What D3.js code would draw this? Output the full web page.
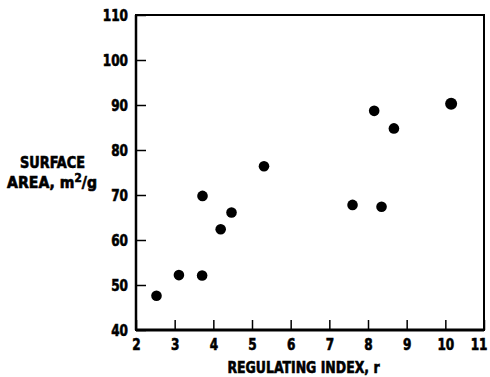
<!DOCTYPE html>
<html><head><meta charset="utf-8">
<script src="https://cdn.jsdelivr.net/npm/d3@7"></script>
<style>
body{margin:0;background:#fff;}
text{font-family:"DejaVu Sans Condensed","DejaVu Sans",sans-serif;font-stretch:condensed;font-weight:bold;fill:#000;stroke:#000;stroke-width:0.6px;}
</style></head>
<body>
<svg id="chart" width="490" height="377"></svg>
<script>
const regulatingIndex = [2.53, 3.11, 3.71, 3.72, 4.19, 4.47, 5.31, 7.6, 8.16, 8.35, 8.67, 10.15];
const surfaceArea     = [47.6, 52.2, 52.1, 69.8, 62.4, 66.1, 76.4, 67.8, 88.7, 67.4, 84.8, 90.3];
const xTicks = [2,3,4,5,6,7,8,9,10,11];
const yTicks = [40,50,60,70,80,90,100,110];

const svg = d3.select("#chart");
const m = {left:136, top:15, right:484, bottom:330};
const x = d3.scaleLinear().domain([2,11]).range([m.left, m.right]);
const y = d3.scaleLinear().domain([40,110]).range([m.bottom, m.top]);

// frame
svg.append("rect").attr("x",m.left).attr("y",m.top)
  .attr("width",m.right-m.left).attr("height",m.bottom-m.top)
  .attr("fill","none").attr("stroke","#000").attr("stroke-width",2);
svg.append("line").attr("x1",m.left).attr("x2",m.right).attr("y1",m.bottom).attr("y2",m.bottom)
  .attr("stroke","#000").attr("stroke-width",3);
svg.append("line").attr("x1",m.left).attr("x2",m.left).attr("y1",m.top).attr("y2",m.bottom)
  .attr("stroke","#000").attr("stroke-width",2.5);

const digitW = 8.4;
// x axis
const xAxis = d3.axisBottom(x).tickValues(xTicks).tickSizeInner(-10).tickSizeOuter(0);
const gx = svg.append("g").attr("transform",`translate(0,${m.bottom})`).call(xAxis);
gx.select(".domain").remove();
gx.selectAll(".tick line").attr("stroke","#000").attr("stroke-width",1.5);
gx.selectAll(".tick text").attr("font-size",16).attr("y",20).attr("dy",0)
  .attr("textLength",d=>String(d).length*digitW).attr("lengthAdjust","spacingAndGlyphs");
gx.selectAll(".tick").filter(d=>d===11).select("text").attr("text-anchor","end").attr("x",3);

// y axis
const yAxis = d3.axisLeft(y).tickValues(yTicks).tickSizeInner(-10).tickSizeOuter(0).tickPadding(8);
const gy = svg.append("g").attr("transform",`translate(${m.left},0)`).call(yAxis);
gy.select(".domain").remove();
gy.selectAll(".tick line").attr("stroke","#000").attr("stroke-width",1.5);
gy.selectAll(".tick text").attr("font-size",16).attr("dy","0.36em")
  .attr("textLength",d=>String(d).length*digitW).attr("lengthAdjust","spacingAndGlyphs");

// points
const data = regulatingIndex.map((v,i)=>({x:v,y:surfaceArea[i]}));
svg.append("g").selectAll("circle").data(data).join("circle")
  .attr("cx",d=>x(d.x)).attr("cy",d=>y(d.y)).attr("r",d=>d.x>10?6:5.3).attr("fill","#000");

// axis titles, fit horizontally to reference widths
function fit(sel, cx, base, w){
  const bw = sel.node().getBBox().width;
  sel.attr("transform",`translate(${cx},${base}) scale(${w/bw},1)`);
}
const tx = svg.append("text").attr("text-anchor","middle").attr("font-size",16).text("REGULATING INDEX, r");
fit(tx, 303.5, 373, 153);
const t1 = svg.append("text").attr("text-anchor","middle").attr("font-size",15.5).text("SURFACE");
fit(t1, 52.5, 168, 65);
const t2 = svg.append("text").attr("text-anchor","middle").attr("font-size",15.5);
t2.append("tspan").text("AREA, m");
t2.append("tspan").attr("font-size",11.5).attr("dy",-6).text("2");
t2.append("tspan").attr("dy",6).text("/g");
fit(t2, 52, 188, 90);
</script>
</body></html>
